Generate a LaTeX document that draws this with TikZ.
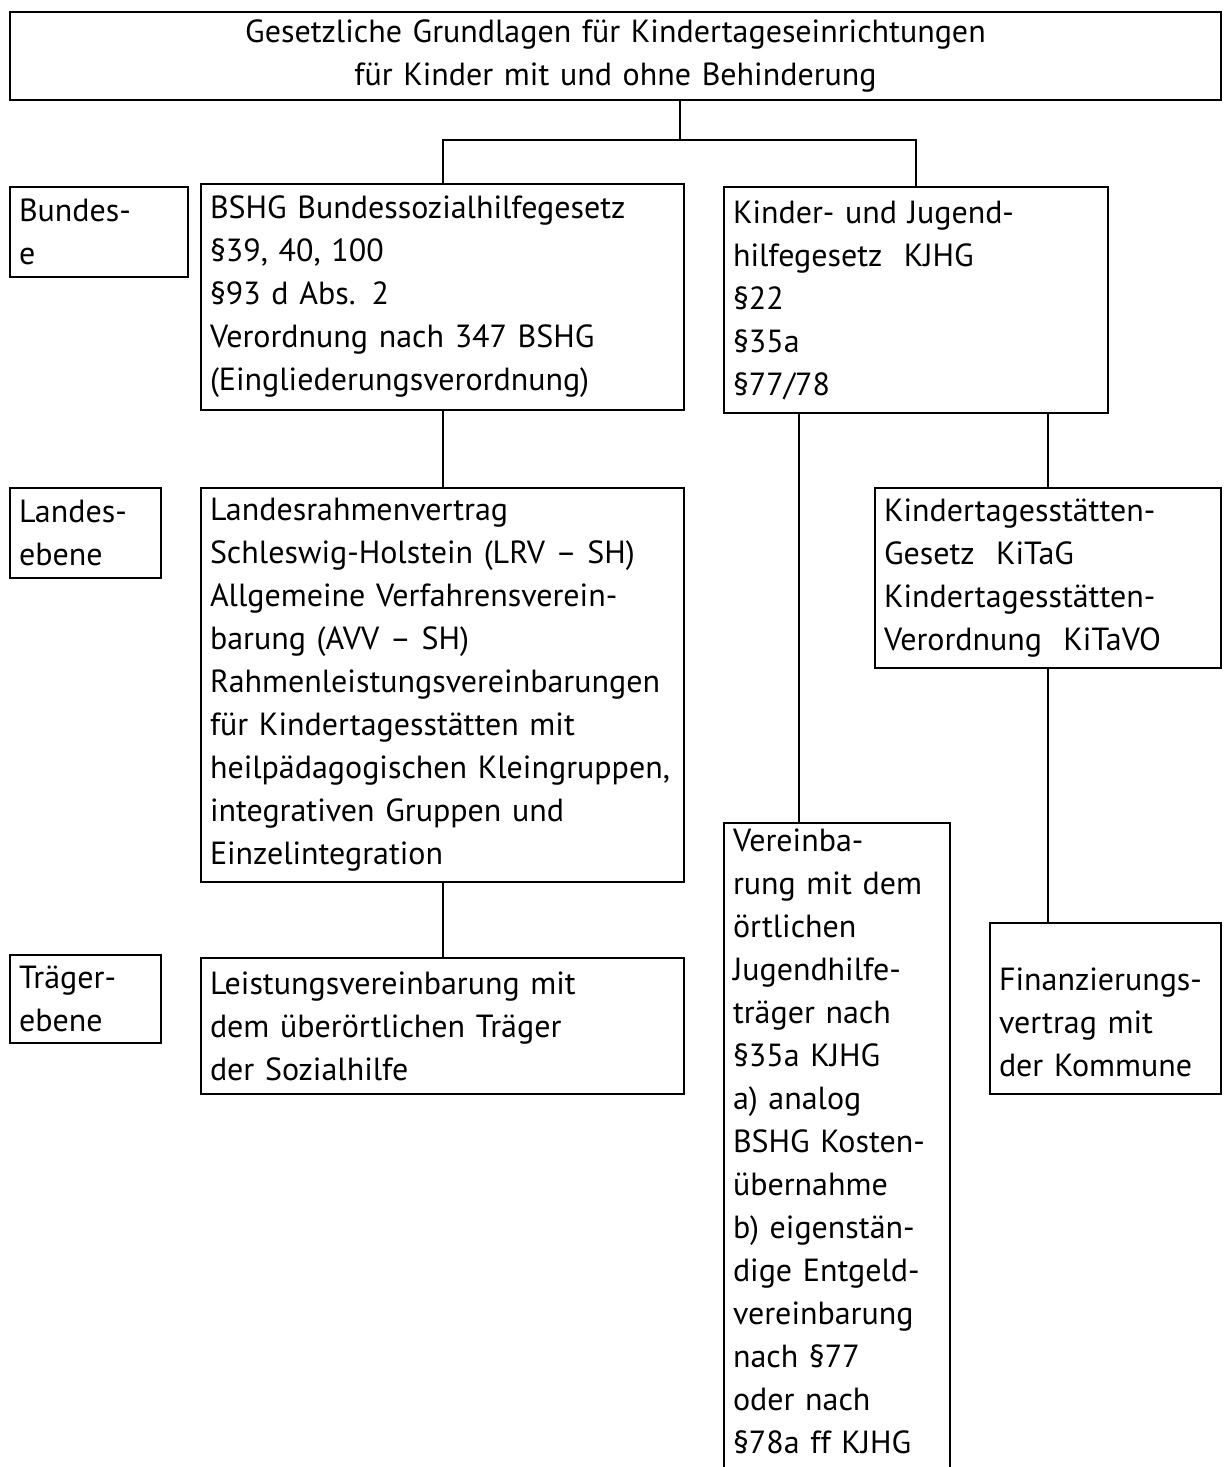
\documentclass[tikz,border=0pt]{standalone}
\usepackage{fontspec}
\setmainfont{PT Sans}
\usepackage{tikz}
\hyphenpenalty=10000
\exhyphenpenalty=10000
\tikzset{
  kasten/.style={draw=black, line width=1pt, anchor=north west, align=left,
    inner xsep=4.5pt, inner ysep=3pt, outer sep=0pt,
    font=\fontsize{16}{21.5}\selectfont},
  linie/.style={draw=black, line width=1pt}
}

\begin{document}
\begin{tikzpicture}[x=0.5pt, y=-0.5pt]
  \useasboundingbox (0,0) rectangle (1223,1467);
  % Titel.
  \node[kasten, align=center, text width=596.5pt, minimum height=44pt] (titel) at (10,12)
    {Gesetzliche Grundlagen für Kindertageseinrichtungen\\ für Kinder mit und ohne Behinderung};

  % Bundesebene.
  \node[kasten, text width=80pt, minimum height=45pt] (bundes) at (10,187) {Bundes-\\ e};
  \node[kasten, text width=232.5pt, minimum height=113pt] (bshg) at (201,184)
    {BSHG Bundessozialhilfegesetz\\ §39, 40, 100\\ §93 d Abs. 2\\ Verordnung nach 347 BSHG\\ (Eingliederungsverordnung)};
  \node[kasten, text width=183pt, minimum height=113pt] (kjhg) at (724,187)
    {Kinder- und Jugend-\\ hilfegesetz\ \ KJHG\\ §22\\ §35a\\ §77/78};

  % Landesebene.
  \node[kasten, text width=66.5pt, minimum height=45pt] (landes) at (10,488) {Landes-\\ ebene};
  \node[kasten, text width=232.5pt, minimum height=197pt] (lrv) at (201,488)
    {Landesrahmenvertrag\\ Schleswig-Holstein (LRV -- SH)\\ Allgemeine Verfahrensverein-\\ barung (AVV -- SH)\\
     Rahmenleistungsvereinbarungen\\ für Kindertagesstätten mit\\ heilpädagogischen Kleingruppen,\\
     integrativen Gruppen und\\ Einzelintegration};
  \node[kasten, text width=164pt, minimum height=90pt] (kita) at (875,488)
    {Kindertagesstätten-\\ Gesetz\ \ KiTaG\\ Kindertagesstätten-\\ Verordnung\ \ KiTaVO};

  % Traegerebene.
  \node[kasten, text width=66.5pt, minimum height=44pt] (traeger) at (10,955) {Träger-\\ ebene};
  \node[kasten, text width=232.5pt, minimum height=68pt] (leist) at (201,958)
    {Leistungsvereinbarung mit\\ dem überörtlichen Träger\\ der Sozialhilfe};
  \node[kasten, text width=104pt, minimum height=335pt] (verein) at (724,823)
    {Vereinba-\\ rung mit dem\\ örtlichen\\ Jugendhilfe-\\ träger nach\\ §35a KJHG\\ a) analog\\ BSHG Kosten-\\
     übernahme\\ b) eigenstän-\\ dige Entgeld-\\ vereinbarung\\ nach §77\\ oder nach\\ §78a ff KJHG\vspace{20pt}};
  \node[kasten, text width=106.5pt, minimum height=85.5pt] (finanz) at (990,923)
    {\rule{0pt}{25pt}Finanzierungs-\\ vertrag mit\\ der Kommune};

  % Linien.
  \coordinate (gabel) at (680,140);
  \coordinate (v1) at (799,0);
  \path[linie] (titel.south -| gabel) -- (gabel);
  \path[linie] (bshg.north) |- (gabel) -| (kjhg.north);
  \path[linie] (bshg.south) -- (lrv.north);
  \path[linie] (lrv.south) -- (leist.north);
  \path[linie] (kjhg.south -| v1) -- (verein.north -| v1);
  \path[linie] (kita.north) -- (kita.north |- kjhg.south);
  \path[linie] (kita.south) -- (kita.south |- finanz.north);
\end{tikzpicture}
\end{document}
